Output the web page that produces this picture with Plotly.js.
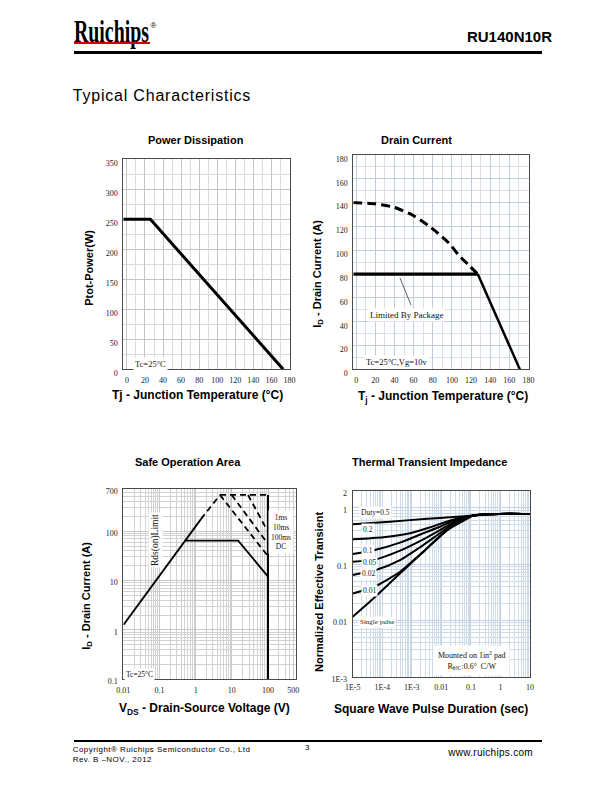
<!DOCTYPE html>
<html><head><meta charset="utf-8">
<script src="https://cdn.plot.ly/plotly-3.0.1.min.js"></script>
<style>
html,body{margin:0;padding:0;background:#fff;}
#page{position:relative;width:612px;height:792px;overflow:hidden;background:#fff;}
#chart{position:absolute;left:0;top:0;width:612px;height:792px;}
.t{position:absolute;white-space:nowrap;line-height:1;color:#000;font-family:"Liberation Sans",Arial,sans-serif;}
.bar{position:absolute;}
</style></head>
<body><div id="page"><div id="chart"></div>
<div class="t" style="left:74px;top:14.9px;font-family:'Liberation Serif',serif;font-weight:bold;font-size:32px;transform:scaleX(0.62);transform-origin:left top;">Ruichips</div>
<div class="t" style="left:150.5px;top:22px;font-size:8px;">®</div>
<div class="bar" style="left:74px;top:42.3px;width:76px;height:2px;background:#d40000;"></div>
<div class="bar" style="left:74px;top:50.7px;width:468px;height:3px;background:#000;"></div>
<div class="t" style="right:60px;top:29px;font-size:15px;font-weight:bold;">RU140N10R</div>
<div class="t" style="left:72.7px;top:88.1px;font-size:16px;letter-spacing:0.8px;">Typical Characteristics</div>
<div class="bar" style="left:74px;top:740px;width:468px;height:2px;background:#000;"></div>
<div class="t" style="left:72.7px;top:746px;font-size:8px;letter-spacing:0.45px;">Copyright® Ruichips Semiconductor Co., Ltd</div>
<div class="t" style="left:72.7px;top:756px;font-size:8px;letter-spacing:0.45px;">Rev. B –NOV., 2012</div>
<div class="t" style="left:305px;top:744px;font-size:8px;">3</div>
<div class="t" style="right:79px;top:748px;font-size:10px;letter-spacing:0.3px;">www.ruichips.com</div>
</div>
<script>
// ---------- DATA ----------
// Power Dissipation
const pdTemp = [-4, 26, 173];
const pdPower = [250, 250, 0];
const pdXTicks = [0, 20, 40, 60, 80, 100, 120, 140, 160, 180];
const pdYTicks = [0, 50, 100, 150, 200, 250, 300, 350];
// Drain Current
const idPkgTemp = [-3, 127];
const idPkgCurrent = [80, 80];
const idSiTemp = [-3, 0, 20, 40, 60, 75, 86, 97, 107, 117, 127];
const idSiCurrent = [140, 140, 139, 136, 129, 121, 114, 106, 96, 88, 80];
const idDerateTemp = [127, 171];
const idDerateCurrent = [80, 0];
const idXTicks = [0, 20, 40, 60, 80, 100, 120, 140, 160, 180];
const idYTicks = [0, 20, 40, 60, 80, 100, 120, 140, 160, 180];
// Safe Operation Area
const soaRdsV = [0.0102, 1.4];
const soaRdsI = [1.27, 175];
const soaRdsDashV = [1.4, 4.7];
const soaRdsDashI = [175, 540];
const soaTopV = [4.7, 100];
const soaTopI = [540, 540];
const soa1msV = [28, 100];
const soa1msI = [540, 97];
const soa10msV = [9.9, 100];
const soa10msI = [540, 55];
const soa100msV = [4.7, 100];
const soa100msI = [540, 31];
const soaDcV = [0.5, 15, 100];
const soaDcI = [64, 64, 12];
const soaLimitV = [100, 100];
const soaLimitI = [540, 0.1];
const soaXTickVals = [0.01, 0.1, 1, 10, 100, 500];
const soaXTickText = ['0.01', '0.1', '1', '10', '100', '500'];
const soaYTickVals = [0.1, 1, 10, 100, 700];
const soaYTickText = ['0.1', '1', '10', '100', '700'];
// Thermal Transient Impedance
const ztTail = [0.12, 0.45, 2, 10];
const ztTailVal = [0.73, 0.77, 0.785, 0.775];
const zt05T = [1e-5, 1.8e-4, 2.5e-3, 0.033];
const zt05 = [0.51, 0.566, 0.63, 0.69];
const zt02T = [1e-5, 1.1e-4, 8.7e-4, 4.2e-3, 0.015, 0.043];
const zt02 = [0.275, 0.30, 0.352, 0.45, 0.566, 0.667];
const zt01T = [1e-5, 5.6e-5, 4e-4, 2.45e-3, 8.9e-3, 0.033];
const zt01 = [0.151, 0.178, 0.24, 0.352, 0.46, 0.625];
const zt005T = [1e-5, 5.6e-5, 4e-4, 2.45e-3, 8.9e-3, 0.033];
const zt005 = [0.11, 0.12, 0.173, 0.275, 0.40, 0.59];
const zt002T = [1e-5, 6e-5, 4e-4, 2.45e-3, 8.9e-3, 0.033];
const zt002 = [0.064, 0.0785, 0.118, 0.218, 0.352, 0.566];
const zt001T = [1e-5, 5.6e-5, 4e-4, 2.45e-3, 8.9e-3, 0.033];
const zt001 = [0.030, 0.040, 0.073, 0.166, 0.307, 0.54];
const ztSingleT = [1e-5, 4.4e-5, 3.5e-4, 2.16e-3, 0.0133, 0.049];
const ztSingle = [0.0116, 0.023, 0.064, 0.155, 0.377, 0.565];
const ztXTickVals = [1e-5, 1e-4, 1e-3, 0.01, 0.1, 1, 10];
const ztXTickText = ['1E-5', '1E-4', '1E-3', '0.01', '0.1', '1', '10'];
const ztYTickVals = [1e-3, 0.01, 0.1, 1, 2];
const ztYTickText = ['1E-3', '0.01', '0.1', '1', '2'];

// ---------- LAYOUT HELPERS ----------
const W = 612, H = 792;
const SANS = '"Liberation Sans", Arial, sans-serif';
const SERIF = '"Liberation Serif", "Times New Roman", serif';
const dom = (l, r, t, b) => ({x: [l / W, r / W], y: [1 - b / H, 1 - t / H]});
const D1 = dom(123.3, 289.5, 159.3, 369.3);
const D2 = dom(353.3, 528.5, 155, 369.4);
const D3 = dom(123.3, 295.7, 489.3, 679.3);
const D4 = dom(352.7, 530, 490.7, 676.7);

// grid positions 1..9 x 10^e for log axes (drawn as minor grid lines)
function logGridVals(lo, hi) {
  const tv = [];
  for (let e = lo; e <= hi; e++) for (let m = 1; m <= 9; m++) tv.push(m * Math.pow(10, e));
  return tv;
}

const baseAx = {showline: true, mirror: true, linecolor: '#4a4a4a', linewidth: 1, zeroline: false,
  ticks: '', showgrid: true, fixedrange: true, tickfont: {family: SERIF, size: 8, color: '#222'}};

const ln = (x, y, xa, ya, w, dash, smooth) => ({x, y, xaxis: xa, yaxis: ya, type: 'scatter', mode: 'lines',
  line: Object.assign({color: '#000', width: w, dash: dash || 'solid'}, smooth ? {shape: 'spline', smoothing: 0.6} : {}),
  hoverinfo: 'skip', showlegend: false});

const traces = [
  ln(pdTemp, pdPower, 'x', 'y', 3),
  ln(idPkgTemp, idPkgCurrent, 'x2', 'y2', 3.2),
  ln(idSiTemp, idSiCurrent, 'x2', 'y2', 3, '9px,5px', true),
  ln(idDerateTemp, idDerateCurrent, 'x2', 'y2', 2.5),
  ln(soaRdsV, soaRdsI, 'x3', 'y3', 1.8),
  ln(soaRdsDashV, soaRdsDashI, 'x3', 'y3', 1.8, '6px,4px'),
  ln(soaTopV, soaTopI, 'x3', 'y3', 1.8, '6px,4px'),
  ln(soa1msV, soa1msI, 'x3', 'y3', 1.8, '6px,4px'),
  ln(soa10msV, soa10msI, 'x3', 'y3', 1.8, '6px,4px'),
  ln(soa100msV, soa100msI, 'x3', 'y3', 1.8, '6px,4px'),
  ln(soaDcV, soaDcI, 'x3', 'y3', 1.8),
  ln(soaLimitV, soaLimitI, 'x3', 'y3', 2),
  ln(zt05T.concat(ztTail), zt05.concat(ztTailVal), 'x4', 'y4', 2, null, true),
  ln(zt02T.concat(ztTail), zt02.concat(ztTailVal), 'x4', 'y4', 2, null, true),
  ln(zt01T.concat(ztTail), zt01.concat(ztTailVal), 'x4', 'y4', 2, null, true),
  ln(zt005T.concat(ztTail), zt005.concat(ztTailVal), 'x4', 'y4', 2, null, true),
  ln(zt002T.concat(ztTail), zt002.concat(ztTailVal), 'x4', 'y4', 2, null, true),
  ln(zt001T.concat(ztTail), zt001.concat(ztTailVal), 'x4', 'y4', 2, null, true),
  ln(ztSingleT.concat(ztTail), ztSingle.concat(ztTailVal), 'x4', 'y4', 2, null, true)
];

const A = (text, x, y, o) => Object.assign({text, x: x / W, y: 1 - y / H, xref: 'paper', yref: 'paper',
  showarrow: false, xanchor: 'center', yanchor: 'middle', font: {family: SANS, size: 11, color: '#000'}}, o || {});
const titleF = {family: SANS, size: 11, color: '#000', weight: 'bold'};
const axF = {family: SANS, size: 12, color: '#000', weight: 'bold'};
const axYF = {family: SANS, size: 11, color: '#000', weight: 'bold'};
const lbl = {family: SERIF, size: 7.5, color: '#222'};

const annotations = [
  A('<b>Power Dissipation</b>', 195.8, 140, {font: titleF}),
  A('<b>Drain Current</b>', 416.3, 140, {font: titleF}),
  A('<b>Safe Operation Area</b>', 187.8, 461.7, {font: titleF}),
  A('<b>Thermal Transient Impedance</b>', 429.2, 461.7, {font: titleF}),
  A('<b>Ptot-Power(W)</b>', 88.3, 267.5, {font: axYF, textangle: -90}),
  A('<b>Tj - Junction Temperature (°C)</b>', 197.5, 395, {font: axF}),
  A('<b>I<sub>D</sub> - Drain Current (A)</b>', 317.7, 274, {font: axYF, textangle: -90}),
  A('<b>T<sub>j</sub> - Junction Temperature (°C)</b>', 443, 396.7, {font: axF}),
  A('<b>I<sub>D</sub> - Drain Current (A)</b>', 86.7, 596, {font: axYF, textangle: -90}),
  A('<b>V<sub>DS</sub> - Drain-Source Voltage (V)</b>', 204, 709.3, {font: axF}),
  A('<b>Normalized Effective Transient</b>', 318.3, 591.7, {font: axYF, textangle: -90}),
  A('<b>Square Wave Pulse Duration (sec)</b>', 430.8, 709.3, {font: axF}),
  A('Tc=25°C', 150.7, 364.3, {font: {family: SERIF, size: 8.5, color: '#2a1a10'}, bgcolor: '#fff', borderpad: 1}),
  A('Tc=25°C,Vg=10v', 397, 361.7, {font: {family: SERIF, size: 8.5, color: '#111'}, bgcolor: '#fff', borderpad: 1}),
  A('Limited By Package', 406.7, 315, {font: {family: SERIF, size: 9, color: '#111'}, bgcolor: '#fff', borderpad: 1}),
  A('Rds(on)Limit', 155, 540, {font: {family: SERIF, size: 9.5, color: '#111'}, textangle: -90, bgcolor: '#fff'}),
  A('1ms<br>10ms<br>100ms<br>DC', 280.5, 532, {font: {family: SERIF, size: 7.5, color: '#111'}, bgcolor: '#fff', borderpad: 2}),
  A('Tc=25°C', 139, 674.5, {font: {family: SERIF, size: 7.5, color: '#111'}, bgcolor: '#fff', borderpad: 1}),
  A('Duty=0.5', 375, 512.7, {font: lbl, bgcolor: '#fff'}),
  A('0.2', 368, 529.3, {font: lbl, bgcolor: '#fff'}),
  A('0.1', 368.3, 550.7, {font: lbl, bgcolor: '#fff'}),
  A('0.05', 369, 562.7, {font: lbl, bgcolor: '#fff'}),
  A('0.02', 368, 573.3, {font: lbl, bgcolor: '#fff'}),
  A('0.01', 369, 590, {font: lbl, bgcolor: '#fff'}),
  A('Single pulse', 377, 621.7, {font: {family: SERIF, size: 7, color: '#222'}, bgcolor: '#fff'}),
  A('Mounted on 1in<sup>2</sup> pad<br>R<sub>θJC</sub>:0.6°  C/W', 471.7, 660, {font: {family: SERIF, size: 8, color: '#111'}, bgcolor: '#fff', borderpad: 4})
];

const layout = {
  width: W, height: H, margin: {l: 0, r: 0, t: 0, b: 0}, paper_bgcolor: '#fff', plot_bgcolor: '#fff',
  showlegend: false, annotations,
  shapes: [{type: 'line', xref: 'paper', yref: 'paper', x0: 400 / W, y0: 1 - 278 / H, x1: 411 / W, y1: 1 - 305 / H,
    line: {color: '#333', width: 0.8}}],
  xaxis: Object.assign({}, baseAx, {domain: D1.x, anchor: 'y', range: [-4, 180], tickvals: pdXTicks,
    gridcolor: '#c4c4c4', ticklabelstandoff: 3, minor: {tickmode: 'linear', tick0: 0, dtick: 10, showgrid: true, gridcolor: '#dcdcdc'}}),
  yaxis: Object.assign({}, baseAx, {domain: D1.y, anchor: 'x', range: [0, 350], tickvals: pdYTicks,
    gridcolor: '#c4c4c4', ticklabelstandoff: 3, ticklabelshift: 4, minor: {tickmode: 'linear', tick0: 0, dtick: 25, showgrid: true, gridcolor: '#dcdcdc'}}),
  xaxis2: Object.assign({}, baseAx, {domain: D2.x, anchor: 'y2', range: [-3, 180], tickvals: idXTicks,
    gridcolor: '#c3ccd8', ticklabelstandoff: 3, minor: {tickmode: 'linear', tick0: 0, dtick: 10, showgrid: true, gridcolor: '#d8dfe8'}}),
  yaxis2: Object.assign({}, baseAx, {domain: D2.y, anchor: 'x2', range: [0, 180], tickvals: idYTicks,
    gridcolor: '#c3ccd8', ticklabelstandoff: 3, ticklabelshift: 4, minor: {tickmode: 'linear', tick0: 0, dtick: 10, showgrid: true, gridcolor: '#d8dfe8'}}),
  xaxis3: Object.assign({}, baseAx, {domain: D3.x, anchor: 'y3', type: 'log', range: [-2, 2.765],
    tickmode: 'array', tickvals: soaXTickVals, ticktext: soaXTickText, gridcolor: '#c8c8c8', ticklabelstandoff: 3,
    minor: {tickmode: 'array', tickvals: logGridVals(-2, 2), showgrid: true, gridcolor: '#d2d2d2'}}),
  yaxis3: Object.assign({}, baseAx, {domain: D3.y, anchor: 'x3', type: 'log', range: [-1, Math.log10(700) + 0.002],
    tickmode: 'array', tickvals: soaYTickVals, ticktext: soaYTickText, gridcolor: '#c8c8c8', ticklabelstandoff: 3, ticklabelshift: 2,
    minor: {tickmode: 'array', tickvals: logGridVals(-1, 2), showgrid: true, gridcolor: '#d2d2d2'}}),
  xaxis4: Object.assign({}, baseAx, {domain: D4.x, anchor: 'y4', type: 'log', range: [-5, 1],
    tickmode: 'array', tickvals: ztXTickVals, ticktext: ztXTickText, gridcolor: '#c6d2e2', ticklabelstandoff: 3,
    minor: {tickmode: 'array', tickvals: logGridVals(-5, 1), showgrid: true, gridcolor: '#d0dbe8'}}),
  yaxis4: Object.assign({}, baseAx, {domain: D4.y, anchor: 'x4', type: 'log', range: [-3, Math.log10(2) + 0.002],
    tickmode: 'array', tickvals: ztYTickVals, ticktext: ztYTickText, gridcolor: '#c6d2e2', ticklabelstandoff: 3, ticklabelshift: 2,
    minor: {tickmode: 'array', tickvals: logGridVals(-3, 0), showgrid: true, gridcolor: '#d0dbe8'}})
};

Plotly.newPlot('chart', traces, layout, {staticPlot: true, displayModeBar: false});
</script>
</body></html>
